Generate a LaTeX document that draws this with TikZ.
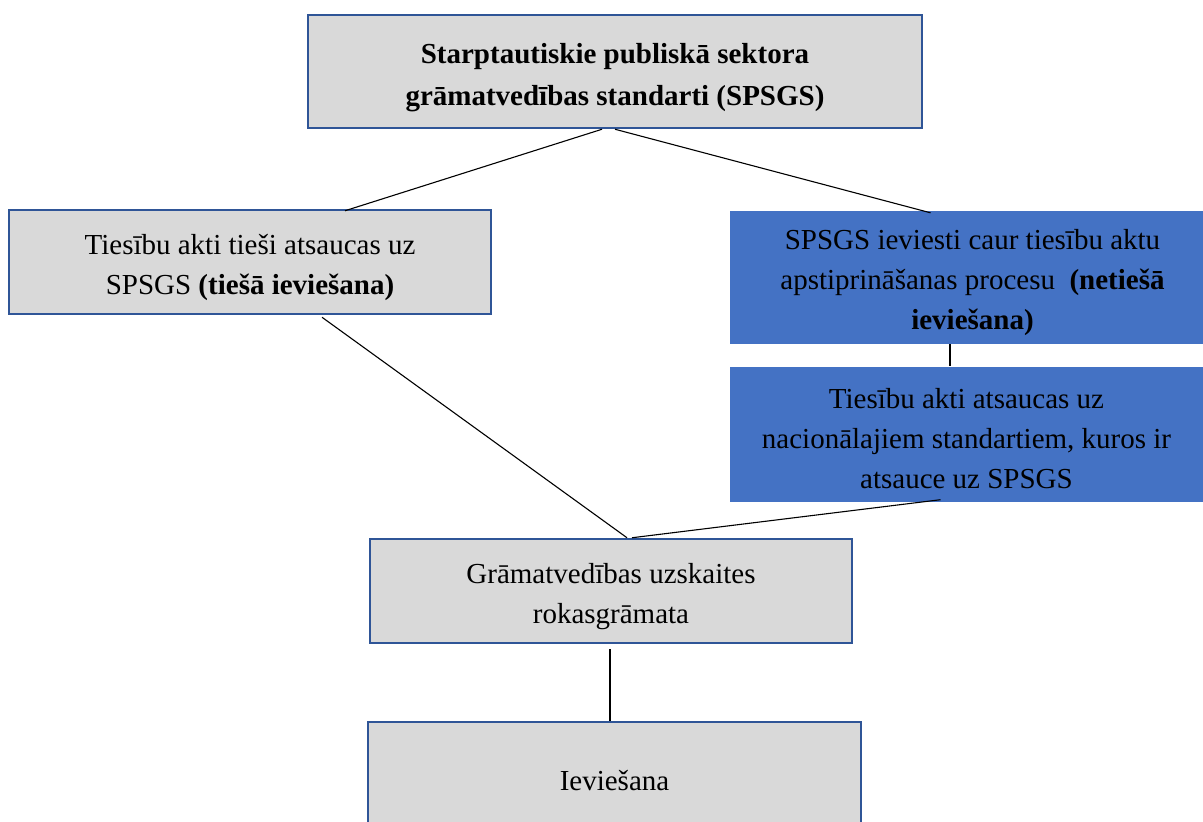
\documentclass[tikz,border=0pt]{standalone}
\usepackage{fontspec}
\setmainfont{Liberation Serif}
\usetikzlibrary{calc}
\definecolor{boxgrey}{HTML}{D9D9D9}
\definecolor{boxline}{HTML}{2F5597}
\definecolor{boxblue}{HTML}{4472C4}
\tikzset{
  greybox/.style={draw=boxline, line width=2.5pt, fill=boxgrey, inner sep=0pt},
  bluebox/.style={fill=boxblue, inner sep=0pt},
  lbl/.style={inner sep=0pt, align=center, font=\fontsize{29}{40}\selectfont},
  conn/.style={draw=black, line width=1.1pt}
}
\begin{document}
\begin{tikzpicture}[x=1pt,y=-1pt]
\useasboundingbox (0,0) rectangle (1203,822);
\clip (0,0) rectangle (1203,822);
\fill[white] (0,0) rectangle (1203,822);
\node[greybox, minimum width=614pt, minimum height=113pt] (top) at (615,71.5) {};
\node[lbl, font=\fontsize{29}{42}\selectfont] (topT) at ([yshift=-6pt]top.center)
  {\textbf{Starptautiskie publiskā sektora}\\\textbf{grāmatvedības standarti (SPSGS)}};
\node[greybox, minimum width=482pt, minimum height=104pt] (left) at (250,262) {};
\node[lbl] (leftT) at ([yshift=-5pt]left.center)
  {Tiesību akti tieši atsaucas uz\\SPSGS \textbf{(tiešā ieviešana)}};
\node[bluebox, minimum width=473pt, minimum height=133pt] (blueA) at (966.5,277.5) {};
\node[lbl] (blueAT) at ([xshift=6pt,yshift=-5pt]blueA.center)
  {SPSGS ieviesti caur tiesību aktu\\apstiprināšanas procesu \ \textbf{(netiešā}\\\textbf{ieviešana)}};
\node[bluebox, minimum width=473pt, minimum height=135pt] (blueB) at (966.5,434) {};
\node[lbl] (blueBT) at ([yshift=-5pt]blueB.center)
  {Tiesību akti atsaucas uz\\nacionālajiem standartiem, kuros ir\\atsauce uz SPSGS};
\node[greybox, minimum width=482pt, minimum height=104pt] (mid) at (611,591) {};
\node[lbl] (midT) at ([yshift=-6pt]mid.center)
  {Grāmatvedības uzskaites\\rokasgrāmata};
\node[greybox, minimum width=493pt, minimum height=118pt] (bot) at (614.5,781) {};
\node[lbl] (botT) at ([yshift=0pt]bot.center) {Ieviešana};
\draw[conn] ([xshift=-13pt]top.south) -- ([xshift=95pt,yshift=-2pt]left.north);
\draw[conn] (top.south) -- ([xshift=-36pt,yshift=-2pt]blueA.north);
\draw[conn] ([xshift=72pt,yshift=-2pt]left.south) -- ([xshift=16pt]mid.north);
\draw[conn] ([xshift=-26pt,yshift=2pt]blueB.south) -- ([xshift=21pt]mid.north);
\draw[conn] ([xshift=-16.5pt]blueA.south) -- ([xshift=-16.5pt]blueB.north);
\draw[conn] ([xshift=-1pt,yshift=-5pt]mid.south) -- ([xshift=-4.5pt]bot.north);
\end{tikzpicture}
\end{document}
